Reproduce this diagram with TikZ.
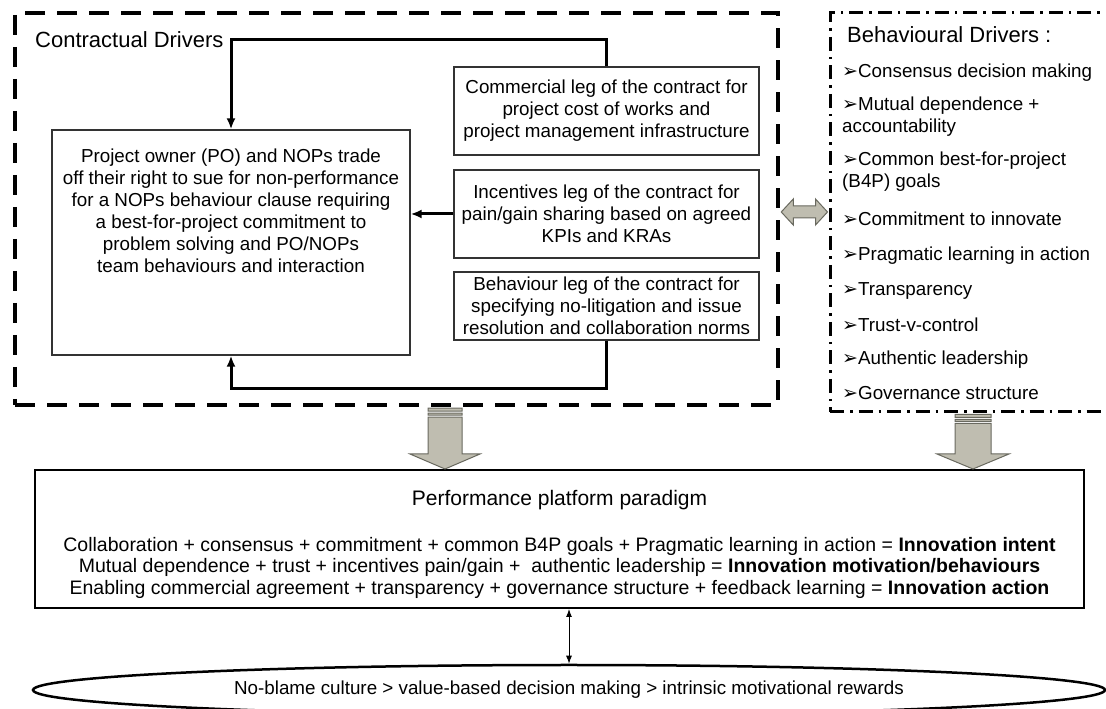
\documentclass[tikz,border=0pt]{standalone}
\usepackage{fontspec}
\setmainfont{Liberation Sans}
\newfontfamily\dingfont{DejaVu Sans}
\usetikzlibrary{arrows.meta, positioning, shapes.geometric, calc}
\definecolor{arrowfill}{RGB}{191,189,176}
\definecolor{arrowedge}{RGB}{105,105,95}
\newcommand{\boxfont}{\fontsize{18.8}{22}\selectfont}
\newcommand{\headfont}{\fontsize{22}{26}\selectfont}
\newcommand{\itemmark}{{\dingfont\fontsize{19}{22}\selectfont ➢}}

\begin{document}
\begin{tikzpicture}[x=1pt, y=1pt,
  legbox/.style={draw=black!80, line width=1.3pt, minimum width=305pt, align=center, inner sep=0pt, font=\boxfont},
  conn/.style={line width=3pt, -{Latex[length=11pt, width=9pt]}},
  drvitem/.style={anchor=west, align=left, inner sep=0pt, font=\boxfont},
  blockarrow/.style={fill=arrowfill, draw=arrowedge, line width=1pt}]
  \useasboundingbox (0,0) rectangle (1106,709);

  % contractual drivers
  \node[draw, line width=4.5pt, dash pattern=on 20pt off 12pt, minimum width=763pt, minimum height=392pt, inner sep=0pt] (contract) at (396.5,500) {};
  \node[anchor=west, inner sep=0pt, font=\headfont] (contracthead) at (35,669) {Contractual Drivers};
  \node[draw=black!80, line width=1.3pt, minimum width=358pt, minimum height=225pt] (owner) at (231,466.5) {};
  \node[align=center, inner sep=0pt, font=\boxfont] (ownertxt) at (231,498)
    {Project owner (PO) and NOPs trade\\off their right to sue for non-performance\\for a NOPs behaviour clause requiring\\a best-for-project commitment to\\problem solving and PO/NOPs\\team behaviours and interaction};
  \node[legbox, minimum height=88pt] (comm) at (606.5,598)
    {Commercial leg of the contract for\\project cost of works and\\project management infrastructure};
  \node[legbox, minimum height=88pt] (incent) at (606.5,495)
    {Incentives leg of the contract for\\pain/gain sharing based on agreed\\KPIs and KRAs};
  \node[legbox, minimum height=68pt] (behav) at (606.5,403)
    {Behaviour leg of the contract for\\specifying no-litigation and issue\\resolution and collaboration norms};

  \draw[conn] (comm.north) -- ++(0,27) -| (owner.north);
  \draw[conn] (incent.west) -- (owner.east |- incent.west);
  \draw[conn] (behav.south) -- ++(0,-48) -| (owner.south);

  % behavioural drivers
  \node[draw, line width=3pt, dash pattern=on 14pt off 6pt on 2.5pt off 6pt, minimum width=330pt, minimum height=399pt, inner sep=0pt] (behdrv) at (995,496.5) {};
  \node[anchor=west, inner sep=0pt, font=\headfont] (behhead) at (847,674) {Behavioural Drivers :};
  \foreach \yy/\txt [count=\i] in {636/{\itemmark Consensus decision making},
      592/{\itemmark Mutual dependence +\\accountability},
      537/{\itemmark Common best-for-project\\(B4P) goals},
      490/{\itemmark Commitment to innovate},
      453/{\itemmark Pragmatic learning in action},
      418/{\itemmark Transparency},
      384/{\itemmark Trust-v-control},
      349/{\itemmark Authentic leadership},
      316/{\itemmark Governance structure}}
    \node[drvitem] (drv\i) at (842,\yy) {\txt};

  % grey link arrows
  \path[blockarrow] let \p1 = (contract.east), \p2 = (behdrv.west) in
    (\x1+1,\y1-3) -- ++(12,13) -- ++(0,-7) -- (\x2-13,\y1+3) -- ++(0,7)
    -- (\x2-1,\y1-3) -- ++(-12,-13) -- ++(0,7) -- (\x1+13,\y1-9) -- ++(0,-7) -- cycle;
  \node[draw, line width=2pt, minimum width=1049pt, minimum height=138pt, inner sep=0pt] (platform) at (559.5,170) {};
  \foreach \src/\cx/\sw/\hw in {contract/445/17/35, behdrv/973/18/36}
    \path[blockarrow] let \p1 = (\src.south), \p2 = (platform.north) in
      (\cx-\sw,\y1-1) rectangle (\cx+\sw,\y1-4)
      (\cx-\sw,\y1-6) rectangle (\cx+\sw,\y1-8)
      (\cx-\sw,\y1-10) -- (\cx+\sw,\y1-10) -- (\cx+\sw,\y2+15) -- (\cx+\hw,\y2+15)
      -- (\cx,\y2) -- (\cx-\hw,\y2+15) -- (\cx-\sw,\y2+15) -- cycle;

  % performance platform
  \node[inner sep=0pt, font=\fontsize{21}{25}\selectfont] (platformhead) at (559.5,209) {Performance platform paradigm};
  \node[align=center, inner sep=0pt, font=\fontsize{19.5}{21.5}\selectfont] (platformtxt) at (559.5,141.5)
    {Collaboration + consensus + commitment + common B4P goals + Pragmatic learning in action = \textbf{Innovation intent}\\
     Mutual dependence + trust + incentives pain/gain +\ \ authentic leadership = \textbf{Innovation motivation/behaviours}\\
     Enabling commercial agreement + transparency + governance structure + feedback learning = \textbf{Innovation action}};
  \node[draw, ellipse, line width=2.5pt, minimum width=1072pt, minimum height=50pt, inner sep=0pt, font=\boxfont] (culture) at (569,19)
    {No-blame culture > value-based decision making > intrinsic motivational rewards};
  \draw[line width=1pt, {Latex[length=8pt, width=6pt]}-{Latex[length=8pt, width=6pt]}] (platform.south -| culture.north) -- (culture.north);
\end{tikzpicture}
\end{document}
